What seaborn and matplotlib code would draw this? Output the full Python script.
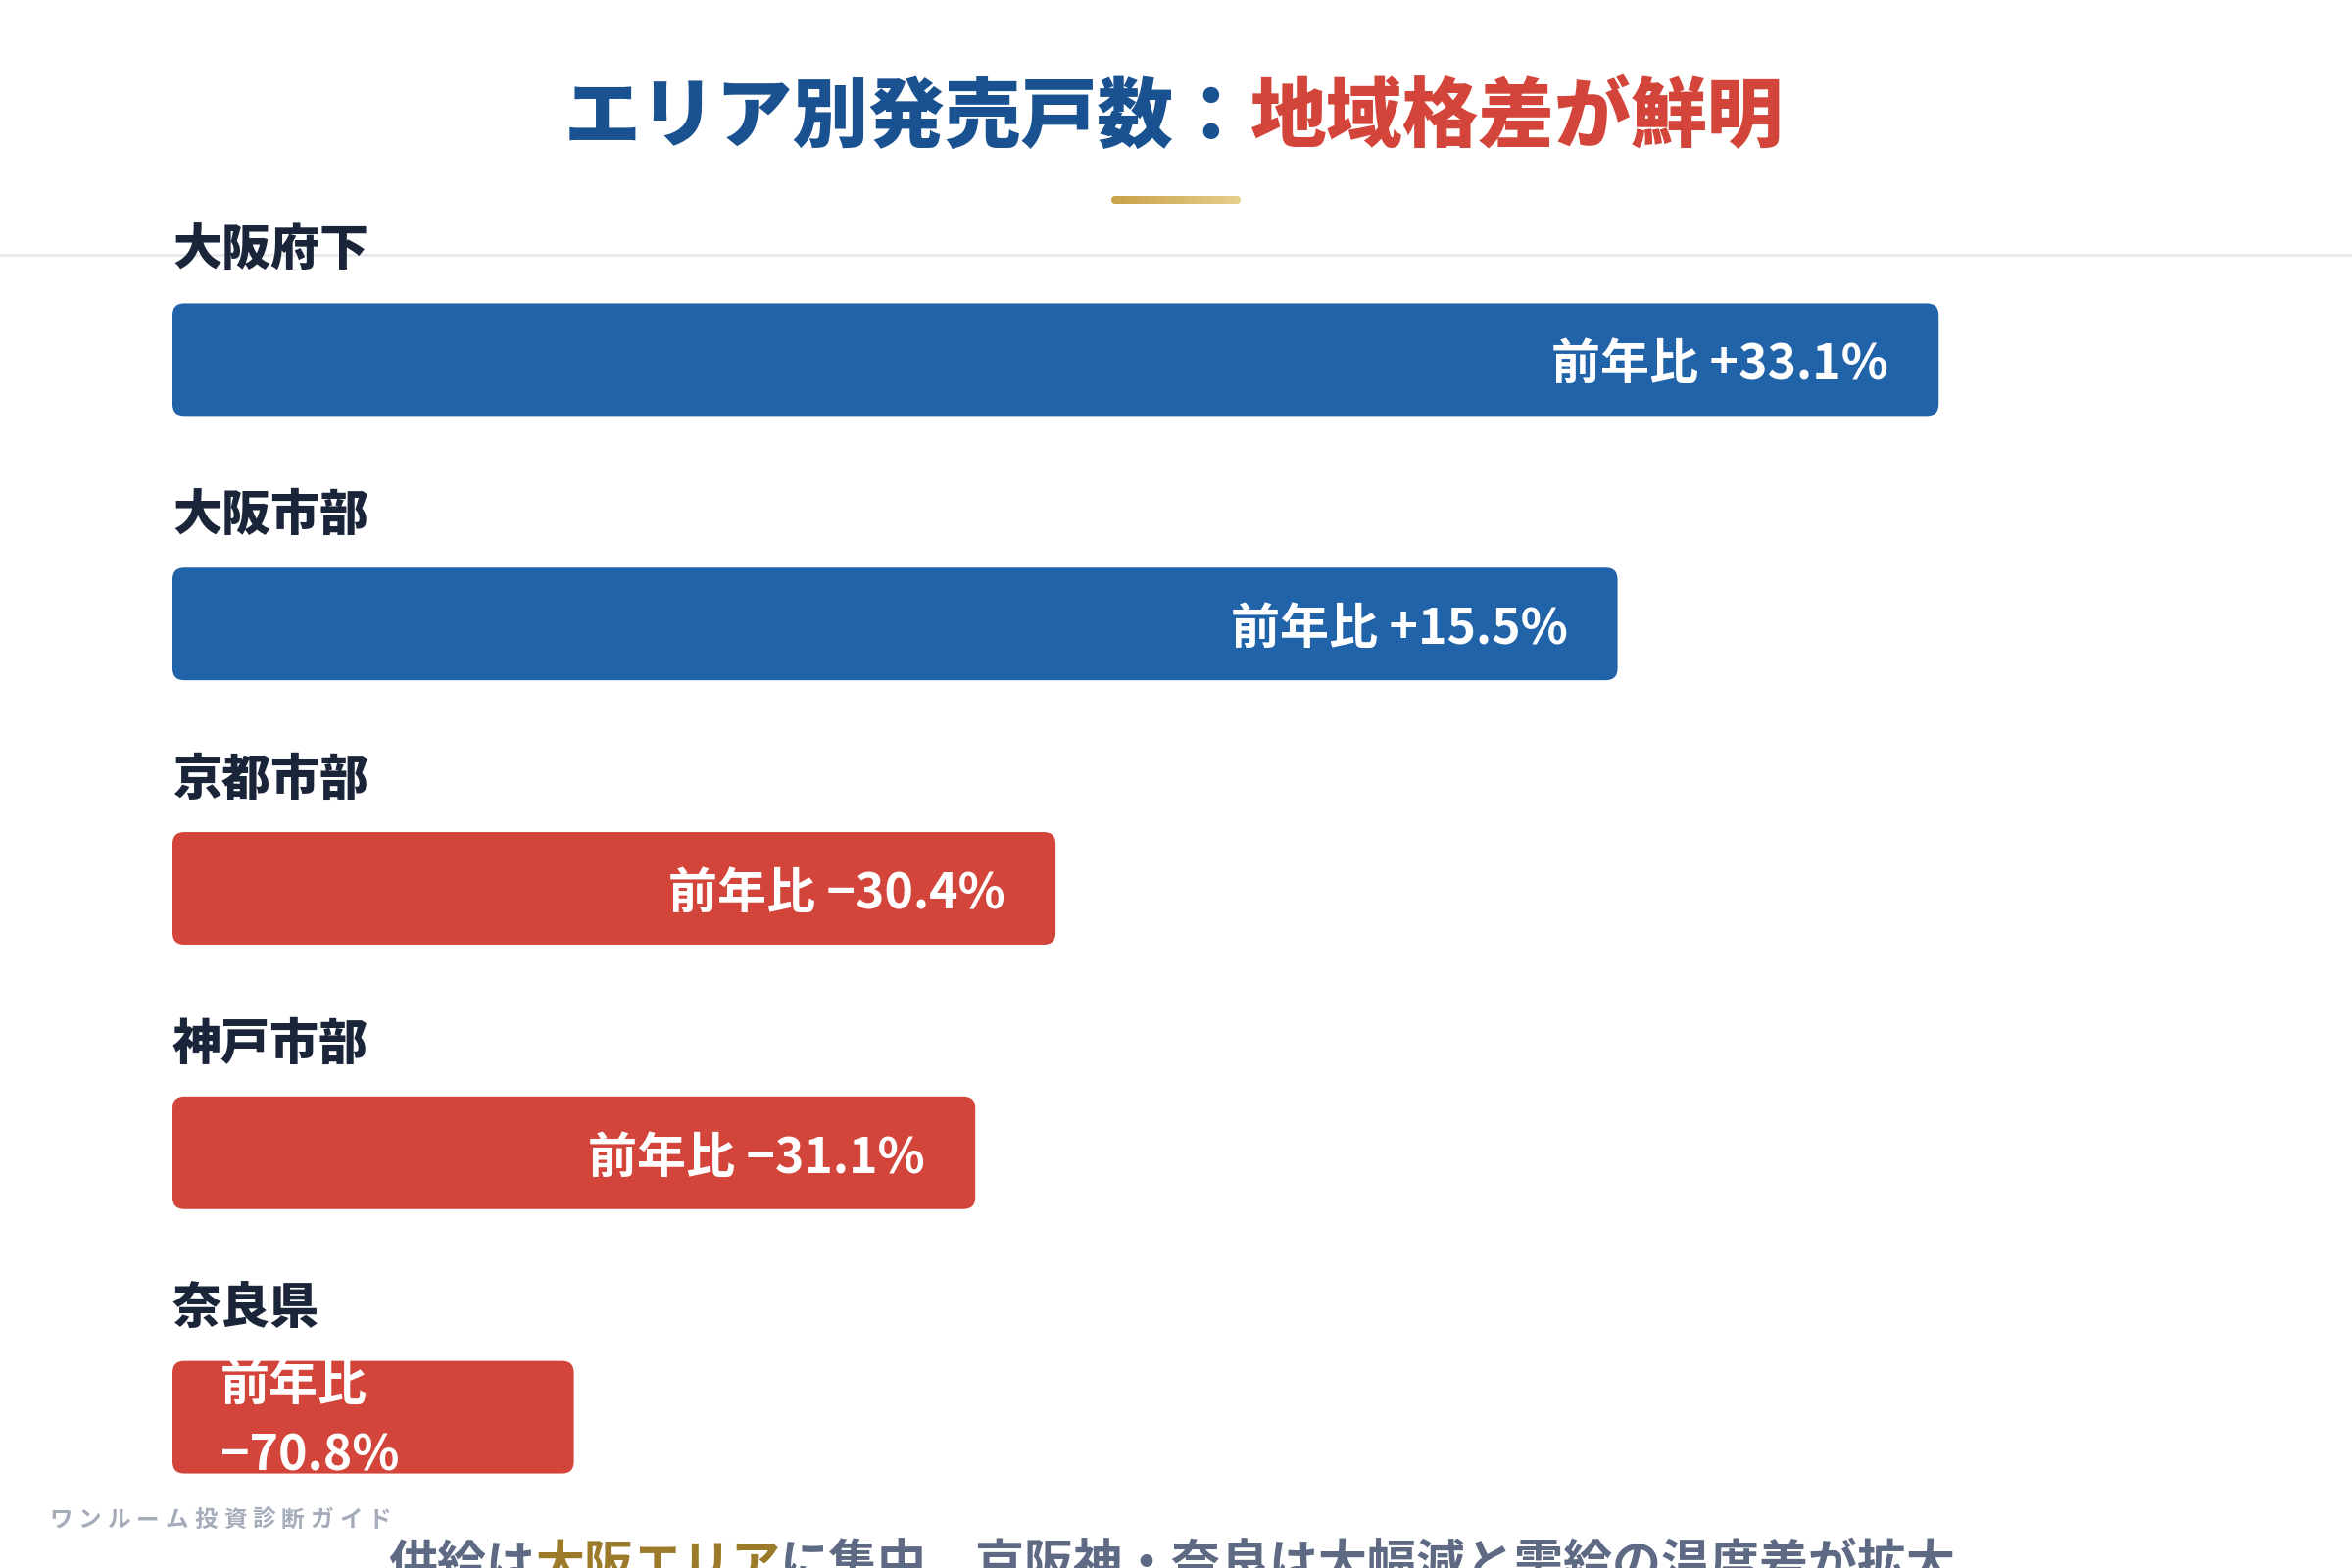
import matplotlib
matplotlib.use("Agg")
import matplotlib.pyplot as plt
import seaborn as sns
import numpy as np
from matplotlib.patches import FancyBboxPatch
from matplotlib.colors import LinearSegmentedColormap

# データ
areas = ['大阪府下', '大阪市部', '京都市部', '神戸市部', '奈良県']
bar_share = [88, 72, 44, 40, 20]   # バーの長さ（%）
yoy = ['+33.1%', '+15.5%', '−30.4%', '−31.1%', '−70.8%']
bar_colors = ['#2163a8', '#2163a8', '#d3453a', '#d3453a', '#d3453a']

title_a = 'エリア別発売戸数：'
title_b = '地域格差が鮮明'
note_parts = ['供給は', '大阪エリア', 'に集中、京阪神・奈良は大幅減と需給の温度差が拡大']
note_colors = ['#5e6a84', '#9b7a2a', '#5e6a84']
brand = 'ワンルーム投資診断ガイド'

sns.set_theme(style='white')
plt.rcParams['font.family'] = ['Noto Sans CJK JP', 'DejaVu Sans']

fig = plt.figure(figsize=(24, 16), dpi=100)
fig.patch.set_facecolor('white')

# 背景レイヤー（ピクセル座標）
bg = fig.add_axes([0, 0, 1, 1], zorder=0)
bg.set_xlim(0, 2400)
bg.set_ylim(1600, 0)
bg.axis('off')

# 棒グラフ
ax = fig.add_axes([176 / 2400, 1 - 1581 / 1600, 2048 / 2400, 1349 / 1600], zorder=1)
ax.patch.set_alpha(0)
sns.barplot(x=bar_share, y=areas, hue=areas, palette=bar_colors, legend=False,
            orient='h', width=115 / 270, saturation=1, ax=ax)
ax.set_xlim(0, 100)
ax.set_ylim(4.5, -0.5)
ax.axis('off')

# 角丸に置き換え
for p in list(ax.patches):
    x, y, w, h = p.get_x(), p.get_y(), p.get_width(), p.get_height()
    fc = p.get_facecolor()
    p.remove()
    ax.add_patch(FancyBboxPatch((x, y), w, h, boxstyle='round,pad=0,rounding_size=0.59',
                                mutation_aspect=0.0755, fc=fc, ec='none'))

for i, (area, v, t) in enumerate(zip(areas, bar_share, yoy)):
    ax.text(0, i - 0.41, area, ha='left', va='center', fontsize=36,
            weight='heavy', color='#1b2539')
    if v >= 30:
        ax.annotate(f'前年比 {t}', xy=(v, i), xytext=(-51, -6), textcoords='offset pixels',
                    ha='right', va='center', color='white', fontsize=36, weight='bold')
    else:
        ax.annotate(f'前年比\n{t}', xy=(0, i), xytext=(49, -4), textcoords='offset pixels',
                    ha='left', va='center', color='white', fontsize=36, weight='bold',
                    linespacing=1.5)

# 区切り線
bg.plot([0, 2400], [260, 260], color='#e5e7eb', lw=1.8)

# タイトル下のゴールドライン
cmap = LinearSegmentedColormap.from_list('gold', ['#c9a148', '#e6cf8c'])
grad = np.linspace(0, 1, 256).reshape(1, -1)
im = bg.imshow(grad, extent=(1134, 1266, 208, 200), cmap=cmap, aspect='auto')
clip = FancyBboxPatch((1134, 200), 132, 8, boxstyle='round,pad=0,rounding_size=4',
                      fc='none', ec='none', transform=bg.transData)
bg.add_patch(clip)
im.set_clip_path(clip)
bg.set_xlim(0, 2400)
bg.set_ylim(1600, 0)

# タイトル
ta = bg.text(0, 121, title_a, color='#1a5190', fontsize=56, weight=900, ha='left', va='center')
tb = bg.text(0, 121, title_b, color='#d3453a', fontsize=56, weight=900, ha='left', va='center')

# 下部コメント
note_texts = [bg.text(0, 1598, s, color=c, fontsize=36, weight='bold', ha='left', va='center')
              for s, c in zip(note_parts, note_colors)]

fig.canvas.draw()
r = fig.canvas.get_renderer()
wa = ta.get_window_extent(r).width
wb = tb.get_window_extent(r).width
x0 = 1198 - (wa + wb) / 2
ta.set_x(x0)
tb.set_x(x0 + wa)

x = 396
for t in note_texts:
    t.set_x(x)
    x += t.get_window_extent(r).width

# ブランド表記（字間あり）
x = 50
for ch in brand:
    t = bg.text(x, 1551, ch, color='#a4acba', fontsize=17, weight='bold', ha='left', va='center')
    x += t.get_window_extent(r).width + 6

fig.savefig('out.png', dpi=100)
